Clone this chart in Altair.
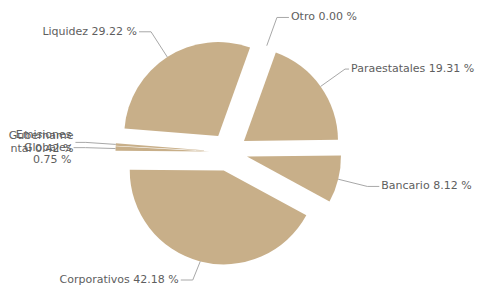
import math
import altair as alt
import pandas as pd

# ---- data ----
categories = ["Otro", "Paraestatales", "Bancario", "Corporativos",
              "Emisiones Globales", "Gubernamental", "Liquidez"]
values = [0.00, 19.31, 8.12, 42.18, 0.75, 0.42, 29.22]
labels = ["Otro 0.00 %", "Paraestatales 19.31 %", "Bancario 8.12 %",
          "Corporativos 42.18 %", "Emisiones\nGlobales\n0.75 %",
          "Gubername\nntal 0.42 %", "Liquidez 29.22 %"]

df = pd.DataFrame({
    "idx": list(range(len(categories))),
    "category": categories,
    "value": values,
    "label": labels,
    "extra_lines": [s.count("\n") for s in labels],
    "chars": [max(len(p) for p in s.split("\n")) for s in labels],
})

# ---- pie geometry (chart pixels) ----
W, H = 469, 279
CX, CY = 220.5, 144        # pie centre
R = 94                     # radius
D = 19                     # sliced offset
L = 30                     # label distance
LH = 12.5                  # label line height
CHAR_W = 5.95              # approx. char width at 11px
START = math.radians(19.8) # start angle
YMAX = 272                 # keep labels inside
FILL = "#c8af89"
TEXT = "#5e5e5e"
LINE = "#a8a8a8"
FONT = "DejaVu Sans"

base = (
    alt.Chart(df)
    .transform_window(cum="sum(value)", sort=[alt.SortField("idx")], frame=[None, 0])
    .transform_joinaggregate(total="sum(value)")
    .transform_calculate(
        t0=f"{START} + 2*PI*(datum.cum - datum.value)/datum.total",
        t1=f"{START} + 2*PI*datum.cum/datum.total",
    )
    .transform_calculate(tm="(datum.t0 + datum.t1)/2")
    .transform_calculate(
        cxs=f"{CX} + {D}*sin(datum.tm)",
        cys=f"{CY} - {D}*cos(datum.tm)",
        side="sin(datum.tm) >= 0 ? 1 : -1",
    )
    .transform_calculate(
        ex=f"datum.cxs + {R}*sin(datum.tm)",
        ey=f"datum.cys - {R}*cos(datum.tm)",
        bx=f"datum.cxs + {R + L}*sin(datum.tm)",
        by=f"min({YMAX}, datum.cys - {R + L}*cos(datum.tm))",
    )
    .transform_calculate(
        tx=(f"datum.side > 0 ? min(datum.bx + 14, {W} - 1 - datum.chars*{CHAR_W}) "
            f": max(datum.bx - 14, datum.chars*{CHAR_W})"),
        ty=f"datum.by - datum.extra_lines*{LH}/2",
    )
    .transform_calculate(hx="datum.tx - datum.side*2")
)

arcs = base.mark_arc(radius=R, color=FILL).encode(
    theta=alt.Theta("t0:Q", scale=None),
    theta2="t1:Q",
    x=alt.X("cxs:Q", scale=None, axis=None),
    y=alt.Y("cys:Q", scale=None, axis=None),
)

conn1 = base.mark_rule(color=LINE, strokeWidth=1).encode(
    x=alt.X("ex:Q", scale=None, axis=None),
    y=alt.Y("ey:Q", scale=None, axis=None),
    x2="bx:Q",
    y2="by:Q",
)
conn2 = base.mark_rule(color=LINE, strokeWidth=1).encode(
    x=alt.X("bx:Q", scale=None, axis=None),
    y=alt.Y("by:Q", scale=None, axis=None),
    x2="hx:Q",
    y2="by:Q",
)

text_style = dict(baseline="middle", font=FONT, fontSize=11, lineBreak="\n",
                  lineHeight=LH, color=TEXT)
right_txt = base.transform_filter("datum.side > 0").mark_text(align="left", **text_style).encode(
    x=alt.X("tx:Q", scale=None, axis=None),
    y=alt.Y("ty:Q", scale=None, axis=None),
    text="label:N",
)
left_txt = base.transform_filter("datum.side < 0").mark_text(align="right", **text_style).encode(
    x=alt.X("tx:Q", scale=None, axis=None),
    y=alt.Y("ty:Q", scale=None, axis=None),
    text="label:N",
)

chart = (
    alt.layer(arcs, conn1, conn2, right_txt, left_txt)
    .properties(width=W, height=H, autosize=alt.AutoSizeParams(type="none"), padding=0)
    .configure_view(stroke=None)
)

chart.save("out.html", embed_options={"renderer": "svg", "actions": False})
